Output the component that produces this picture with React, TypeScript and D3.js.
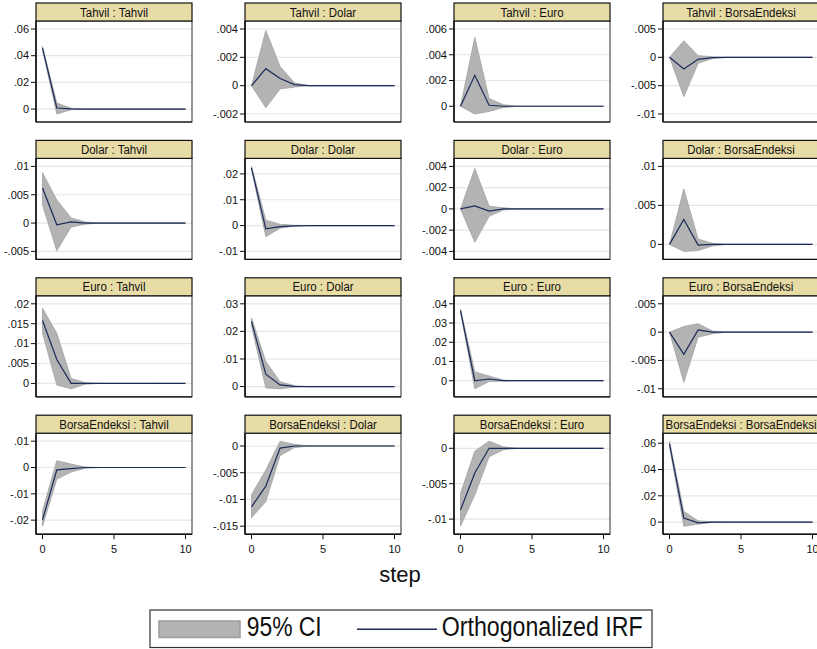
import React from 'react'
import * as d3 from 'd3'

// response steps
const steps = [0, 1, 2, 3, 4, 5, 6, 7, 8, 9, 10]
const impulses = ['Tahvil', 'Dolar', 'Euro', 'BorsaEndeksi']
const responses = ['Tahvil', 'Dolar', 'Euro', 'BorsaEndeksi']
const xTicks = [0, 5, 10]

// orthogonalized IRF, one row per impulse, one series per response
const irfTahvil = [
  [0.0457, 0.0008, 0.0001, 0, 0, 0, 0, 0, 0, 0, 0],
  [0, 0.0012, 0.0005, 0.00007, 0, 0, 0, 0, 0, 0, 0],
  [0, 0.0024, 0.00008, 0, 0, 0, 0, 0, 0, 0, 0],
  [0, -0.00206, -0.00035, -0.00005, 0, 0, 0, 0, 0, 0, 0],
]
const loTahvil = [
  [0.0445, -0.0037, -0.0005, -0.0001, 0, 0, 0, 0, 0, 0, 0],
  [0, -0.00156, -0.00023, -0.0001, 0, 0, 0, 0, 0, 0, 0],
  [0, -0.0006, -0.0004, -0.0001, 0, 0, 0, 0, 0, 0, 0],
  [0, -0.00694, -0.00106, -0.0002, 0, 0, 0, 0, 0, 0, 0],
]
const hiTahvil = [
  [0.047, 0.0045, 0.0006, 0.0001, 0, 0, 0, 0, 0, 0, 0],
  [0, 0.0039, 0.00135, 0.0002, 0, 0, 0, 0, 0, 0, 0],
  [0, 0.00535, 0.0006, 0.00012, 0, 0, 0, 0, 0, 0, 0],
  [0, 0.00294, 0.0003, 0.0001, 0, 0, 0, 0, 0, 0, 0],
]

const irfDolar = [
  [0.0062, -0.0003, 0.0002, 0, 0, 0, 0, 0, 0, 0, 0],
  [0.0223, -0.0013, -0.0004, -0.0001, 0, 0, 0, 0, 0, 0, 0],
  [0, 0.00028, -0.0002, 0, 0, 0, 0, 0, 0, 0, 0],
  [0, 0.0032, -0.0001, 0, 0, 0, 0, 0, 0, 0, 0],
]
const loDolar = [
  [0.0032, -0.0049, -0.0007, -0.0002, 0, 0, 0, 0, 0, 0, 0],
  [0.0218, -0.0043, -0.001, -0.0002, 0, 0, 0, 0, 0, 0, 0],
  [0, -0.00314, -0.0007, -0.0001, 0, 0, 0, 0, 0, 0, 0],
  [0, -0.0009, -0.0008, -0.0002, 0, 0, 0, 0, 0, 0, 0],
]
const hiDolar = [
  [0.0089, 0.0041, 0.0009, 0.0002, 0, 0, 0, 0, 0, 0, 0],
  [0.0229, 0.0021, 0.0005, 0.0001, 0, 0, 0, 0, 0, 0, 0],
  [0, 0.0038, 0.00025, 0.0001, 0, 0, 0, 0, 0, 0, 0],
  [0, 0.0071, 0.0007, 0.00013, 0, 0, 0, 0, 0, 0, 0],
]

const irfEuro = [
  [0.0158, 0.006, 0, 0, 0, 0, 0, 0, 0, 0, 0],
  [0.0236, 0.0045, 0.0006, 0.0001, 0, 0, 0, 0, 0, 0, 0],
  [0.0365, 0, 0.0009, 0.0001, 0, 0, 0, 0, 0, 0, 0],
  [0, -0.0039, 0.0004, 0, 0, 0, 0, 0, 0, 0, 0],
]
const loEuro = [
  [0.0126, -0.0004, -0.00135, -0.0002, 0, 0, 0, 0, 0, 0, 0],
  [0.0219, -0.0005, -0.0008, -0.0002, 0, 0, 0, 0, 0, 0, 0],
  [0.0358, -0.0042, -0.0004, -0.0002, 0, 0, 0, 0, 0, 0, 0],
  [0, -0.00885, -0.0009, -0.0003, 0, 0, 0, 0, 0, 0, 0],
]
const hiEuro = [
  [0.0189, 0.0126, 0.00125, 0.0002, 0, 0, 0, 0, 0, 0, 0],
  [0.0249, 0.0091, 0.0018, 0.0003, 0, 0, 0, 0, 0, 0, 0],
  [0.0372, 0.0046, 0.0025, 0.0003, 0, 0, 0, 0, 0, 0, 0],
  [0, 0.001, 0.0015, 0.0002, 0, 0, 0, 0, 0, 0, 0],
]

const irfBorsa = [
  [-0.0199, -0.0009, -0.0004, 0, 0, 0, 0, 0, 0, 0, 0],
  [-0.0114, -0.0075, -0.0004, 0, 0, 0, 0, 0, 0, 0, 0],
  [-0.0087, -0.0035, 0, 0, 0, 0, 0, 0, 0, 0, 0],
  [0.0595, 0.0031, -0.0005, 0, 0, 0, 0, 0, 0, 0, 0],
]
const loBorsa = [
  [-0.0223, -0.0045, -0.0017, -0.0003, 0, 0, 0, 0, 0, 0, 0],
  [-0.0134, -0.0104, -0.0018, -0.0003, 0, 0, 0, 0, 0, 0, 0],
  [-0.011, -0.0066, -0.0012, -0.0002, 0, 0, 0, 0, 0, 0, 0],
  [0.0574, -0.0031, -0.0015, -0.0002, 0, 0, 0, 0, 0, 0, 0],
]
const hiBorsa = [
  [-0.0165, 0.0026, 0.0013, 0.0002, 0, 0, 0, 0, 0, 0, 0],
  [-0.0091, -0.0045, 0.0009, 0.0003, 0, 0, 0, 0, 0, 0, 0],
  [-0.0064, -0.0004, 0.001, 0.0002, 0, 0, 0, 0, 0, 0, 0],
  [0.0615, 0.0082, 0.001, 0.0002, 0, 0, 0, 0, 0, 0, 0],
]

// y axis ticks for each panel (row = impulse)
const yTicksTahvil = [[0, 0.02, 0.04, 0.06], [-0.002, 0, 0.002, 0.004], [0, 0.002, 0.004, 0.006], [-0.01, -0.005, 0, 0.005]]
const yTicksDolar = [[-0.005, 0, 0.005, 0.01], [-0.01, 0, 0.01, 0.02], [-0.004, -0.002, 0, 0.002, 0.004], [0, 0.005, 0.01]]
const yTicksEuro = [[0, 0.005, 0.01, 0.015, 0.02], [0, 0.01, 0.02, 0.03], [0, 0.01, 0.02, 0.03, 0.04], [-0.01, -0.005, 0, 0.005]]
const yTicksBorsa = [[-0.02, -0.01, 0, 0.01], [-0.015, -0.01, -0.005, 0], [-0.01, -0.005, 0], [0, 0.02, 0.04, 0.06]]

const irfRows = [irfTahvil, irfDolar, irfEuro, irfBorsa]
const loRows = [loTahvil, loDolar, loEuro, loBorsa]
const hiRows = [hiTahvil, hiDolar, hiEuro, hiBorsa]
const tickRows = [yTicksTahvil, yTicksDolar, yTicksEuro, yTicksBorsa]

const W = 817
const H = 649
const FONT = 'Liberation Sans, Arial, Helvetica, sans-serif'
const NAVY = '#1c2b5a'

const colX0 = 36
const colStep = 209
const panelW = 156
const rowY0 = 3
const rowStep = 137.4
const titleH = 18
const plotH = 101

const fmt = (v: number) => (v === 0 ? '0' : String(+v.toFixed(4)).replace(/^(-?)0\./, '$1.'))

function Panel({ r, c }: { r: number; c: number }) {
  const x0 = colX0 + c * colStep
  const top = rowY0 + r * rowStep
  const pTop = top + titleH
  const pBot = top + titleH + plotH
  const irf = irfRows[r][c]
  const lo = loRows[r][c]
  const hi = hiRows[r][c]
  const ticks = tickRows[r][c]
  const ext = d3.extent([...ticks, ...lo, ...hi]) as [number, number]

  const x = d3.scaleLinear().domain([0, 10]).range([x0 + 6.5, x0 + panelW - 6.5])
  const y = d3.scaleLinear().domain(ext).range([pBot - 8, pTop + 8])

  const band = d3.area<number>()
    .x((d) => x(d))
    .y0((d, i) => y(lo[i]))
    .y1((d, i) => y(hi[i]))
  const line = d3.line<number>()
    .x((d) => x(d))
    .y((d, i) => y(irf[i]))

  const title = impulses[r] + ' : ' + responses[c]
  const last = r === 3

  return (
    <g>
      <rect x={x0} y={pTop} width={panelW} height={plotH} fill="#fff" />
      {ticks.map((t) => (
        <line key={'g' + t} x1={x0} x2={x0 + panelW} y1={y(t)} y2={y(t)} stroke="#e6e6e6" strokeWidth={1.2} />
      ))}
      <path d={band(steps) || ''} fill="#b3b3b3" stroke="#a2a2a2" strokeWidth={0.8} />
      <path d={line(steps) || ''} fill="none" stroke={NAVY} strokeWidth={1.2} />
      <rect x={x0} y={pTop} width={panelW} height={plotH} fill="none" stroke="#2a2a2a" strokeWidth={1} />
      <line x1={x0} x2={x0} y1={pTop} y2={pBot} stroke="#111" strokeWidth={1.6} />
      <line x1={x0} x2={x0 + panelW} y1={pBot} y2={pBot} stroke="#111" strokeWidth={last ? 1.6 : 1.2} />
      {ticks.map((t) => (
        <g key={'t' + t}>
          <line x1={x0 - 5} x2={x0} y1={y(t)} y2={y(t)} stroke="#111" strokeWidth={1} />
          <text x={x0 - 7} y={y(t) + 3.8} textAnchor="end" fontSize={11} fontFamily={FONT} fill="#111">
            {fmt(t)}
          </text>
        </g>
      ))}
      {last &&
        xTicks.map((t) => (
          <g key={'x' + t}>
            <line x1={x(t)} x2={x(t)} y1={pBot} y2={pBot + 5} stroke="#111" strokeWidth={1} />
            <text x={x(t)} y={pBot + 19} textAnchor="middle" fontSize={11} fontFamily={FONT} fill="#111">
              {t}
            </text>
          </g>
        ))}
      <rect x={x0} y={top} width={panelW} height={titleH} fill="#e8dca6" stroke="#111" strokeWidth={1.2} />
      <text
        transform={`translate(${x0 + panelW / 2},${top + 13.6}) scale(0.85,1)`}
        textAnchor="middle"
        fontSize={13.5}
        fontFamily={FONT}
        fill="#111"
      >
        {title}
      </text>
    </g>
  )
}

export default function App() {
  const cells: [number, number][] = []
  impulses.forEach((_, r) => responses.forEach((__, c) => cells.push([r, c])))
  return (
    <svg width={W} height={H} style={{ position: 'absolute', left: 0, top: 0, background: '#fff' }}>
      <rect width={W} height={H} fill="#fff" />
      {cells.map(([r, c]) => (
        <Panel key={r + '-' + c} r={r} c={c} />
      ))}
      <text x={400} y={582} textAnchor="middle" fontSize={22} fontFamily={FONT} fill="#111">
        step
      </text>
      <rect x={150} y={610} width={502} height={37.5} fill="#fff" stroke="#333" strokeWidth={1.2} />
      <rect x={159} y={621} width={81} height={16.5} fill="#b3b3b3" stroke="#9c9c9c" strokeWidth={1.5} />
      <text x={246.7} y={636} fontSize={27} fontFamily={FONT} fill="#111" textLength={75} lengthAdjust="spacingAndGlyphs">
        95% CI
      </text>
      <line x1={357} x2={437} y1={629.3} y2={629.3} stroke={NAVY} strokeWidth={1.5} />
      <text x={441.7} y={636} fontSize={27} fontFamily={FONT} fill="#111" textLength={201} lengthAdjust="spacingAndGlyphs">
        Orthogonalized IRF
      </text>
    </svg>
  )
}
